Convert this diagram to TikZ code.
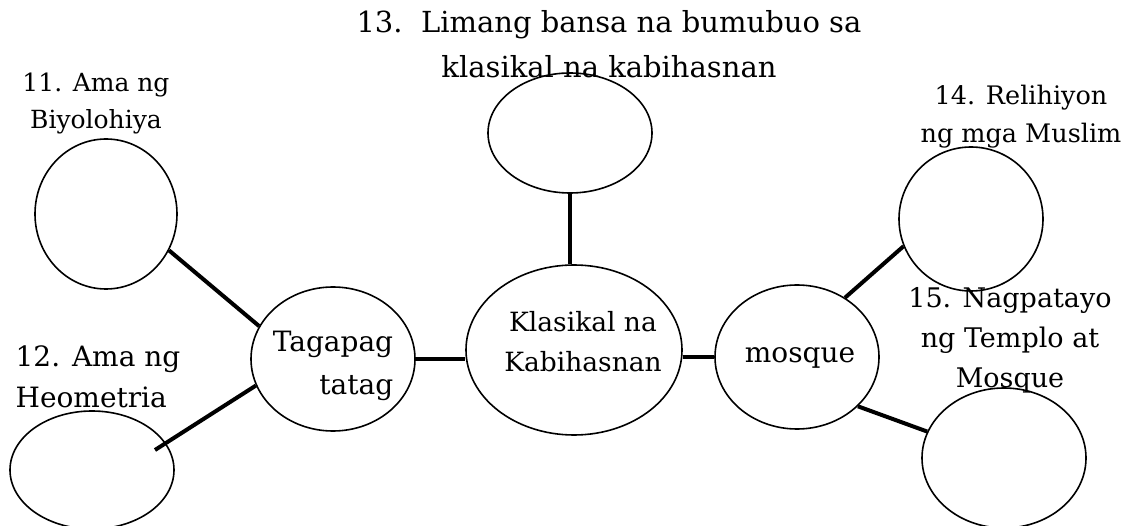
\documentclass[tikz,border=0pt]{standalone}
\usepackage{fontspec}
\setmainfont{DejaVu Serif}
\usetikzlibrary{shapes.geometric}

\begin{document}
\begin{tikzpicture}[x=1pt, y=-1pt,
  bubble/.style={ellipse, draw, line width=1.6pt, inner sep=0pt},
  txt/.style={align=center, inner sep=0pt, anchor=base},
  link/.style={draw, line width=4pt}]
\useasboundingbox (0,0) rectangle (1130,526);
% bubbles
\node[bubble, minimum width=142pt, minimum height=150pt] (C11) at (106,214) {};
\node[bubble, minimum width=164pt, minimum height=118pt] (C12) at (92,470) {};
\node[bubble, minimum width=164pt, minimum height=144pt] (Tag) at (333,359) {};
\node[bubble, minimum width=216pt, minimum height=170pt] (Kla) at (574,350) {};
\node[bubble, minimum width=164pt, minimum height=144pt] (Mos) at (797,357) {};
\node[bubble, minimum width=164pt, minimum height=120pt] (C13) at (570,133) {};
\node[bubble, minimum width=144pt, minimum height=144pt] (C14) at (971,219) {};
\node[bubble, minimum width=164pt, minimum height=140pt] (C15) at (1004,458) {};
\coordinate (C12in) at (155,450);
% texts (base = last line)
\node[txt, font=\fontsize{28}{43}\selectfont, align=right] (TagT) at (333,395) {Tagapag\\tatag};
\node[txt, font=\fontsize{26.5}{40}\selectfont] (KlaT) at (583,372) {Klasikal na\\Kabihasnan};
\node[txt, font=\fontsize{28}{40}\selectfont] (MosT) at (800,363) {mosque};
\node[txt, font=\fontsize{25}{37}\selectfont] (L11) at (96,129) {11. Ama ng\\Biyolohiya};
\node[txt, font=\fontsize{28}{41}\selectfont, align=left] (L12) at (98,408) {12. Ama ng\\Heometria};
\node[txt, font=\fontsize{29}{45}\selectfont] (L13) at (609,78) {13.\ \ Limang bansa na bumubuo sa\\klasikal na kabihasnan};
\node[txt, font=\fontsize{25.5}{38}\selectfont] (L14) at (1021,143) {14. Relihiyon\\ng mga Muslim};
\node[txt, font=\fontsize{27}{40}\selectfont] (L15) at (1010,388) {15. Nagpatayo\\ng Templo at\\Mosque};
% connectors
\draw[link] (C11.-30) -- (Tag.156);
\draw[link] (Tag.199) -- (C12in);
\draw[link] (Tag.east) -- (Tag.east -| Kla.west);
\draw[link] (C13.south) -- (C13.south |- Kla.north);
\draw[link] (Mos.west) -- (Mos.west -| Kla.east);
\draw[link] (Mos.51) -- (C14.202);
\draw[link] (Mos.-39) -- (C15.161);
\end{tikzpicture}
\end{document}
